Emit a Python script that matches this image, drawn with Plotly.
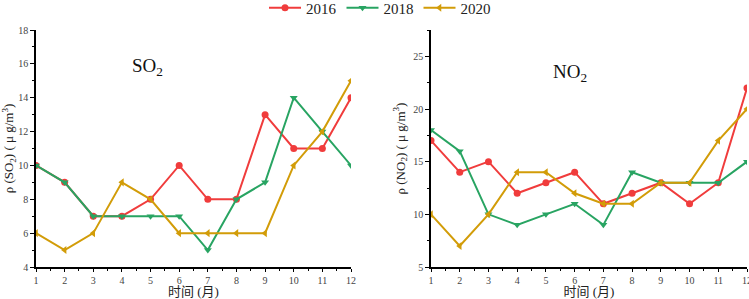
import plotly.graph_objects as go

months = list(range(1, 13))
series_names = ["2016", "2018", "2020"]
so2_2016 = [10, 9, 7, 7, 8, 10, 8, 8, 13, 11, 11, 14]
so2_2018 = [10, 9, 7, 7, 7, 7, 5, 8, 9, 14, 12, 10]
so2_2020 = [6, 5, 6, 9, 8, 6, 6, 6, 6, 10, 12, 15]
no2_2016 = [17, 14, 15, 12, 13, 14, 11, 12, 13, 11, 13, 22]
no2_2018 = [18, 16, 10, 9, 10, 11, 9, 14, 13, 13, 13, 15]
no2_2020 = [10, 7, 10, 14, 14, 12, 11, 11, 13, 13, 17, 20]

colors = ["#F03C3C", "#28A462", "#D29C08"]
symbols = ["circle", "triangle-down", "triangle-left"]

SERIF = "Liberation Serif, DejaVu Serif, Noto Sans CJK SC, serif"

fig = go.Figure()
for i, (name, vals) in enumerate(zip(series_names, [so2_2016, so2_2018, so2_2020])):
    fig.add_trace(go.Scatter(x=months, y=vals, name=name, mode="lines+markers",
                             line=dict(color=colors[i], width=2),
                             marker=dict(symbol=symbols[i], size=7, color=colors[i]),
                             xaxis="x", yaxis="y", legendgroup=name))
for i, (name, vals) in enumerate(zip(series_names, [no2_2016, no2_2018, no2_2020])):
    fig.add_trace(go.Scatter(x=months, y=vals, name=name, mode="lines+markers",
                             line=dict(color=colors[i], width=2),
                             marker=dict(symbol=symbols[i], size=7, color=colors[i]),
                             xaxis="x2", yaxis="y2", legendgroup=name, showlegend=False))

W, H = 749, 299
ML, MR, MT, MB = 36, 2, 30, 32
PW = W - ML - MR
tickfont = dict(family=SERIF, size=10, color="#444")
titlefont = dict(family=SERIF, size=13, color="#222")

def xaxis_cfg(domain, anchor):
    return dict(domain=domain, anchor=anchor, range=[1, 12], tickvals=months,
                showgrid=False, zeroline=False, showline=True, linecolor="black",
                linewidth=1.5, ticks="outside", ticklen=3, tickcolor="black",
                minor=dict(ticks="outside", ticklen=2, dtick=0.5, tick0=1, tickcolor="black"),
                tickfont=tickfont, ticklabeloverflow="allow",
                title=dict(text="时间 (月)", font=dict(family=SERIF, size=13, color="#222"), standoff=6),
                automargin=False)

def yaxis_cfg(anchor, rng, dtick, mdtick, title):
    return dict(domain=[0, 1], anchor=anchor, range=rng, dtick=dtick, tick0=0,
                showgrid=False, zeroline=False, showline=True, linecolor="black",
                linewidth=1.5, ticks="outside", ticklen=4, tickcolor="black",
                minor=dict(ticks="outside", ticklen=2, dtick=mdtick, tick0=0, tickcolor="black"),
                tickfont=tickfont, title=dict(text=title, font=titlefont, standoff=5),
                automargin=False)

fig.update_layout(
    width=W, height=H,
    margin=dict(l=ML, r=MR, t=MT, b=MB, autoexpand=False),
    plot_bgcolor="white", paper_bgcolor="white",
    xaxis=xaxis_cfg([0, (351 - ML) / PW], "y"),
    yaxis=yaxis_cfg("x", [4, 18], 2, 1, "ρ (SO<sub>2</sub>) ( μ g/m<sup>3</sup>)"),
    xaxis2=xaxis_cfg([(431 - ML) / PW, 1], "y2"),
    yaxis2=yaxis_cfg("x2", [5, 27.5], 5, 2.5, "ρ (NO<sub>2</sub>) ( μ g/m<sup>3</sup>)"),
    legend=dict(orientation="h", x=(380 - ML) / PW, xanchor="center", y=1 + 22 / 237, yanchor="middle",
                font=dict(family=SERIF, size=15, color="#222"), itemwidth=32,
                tracegroupgap=0, bgcolor="rgba(0,0,0,0)"),
    annotations=[
        dict(text="SO<sub>2</sub>", x=4.9, y=15.8, xref="x", yref="y", showarrow=False,
             font=dict(family=SERIF, size=19, color="#111")),
        dict(text="NO<sub>2</sub>", x=5.85, y=23.4, xref="x2", yref="y2", showarrow=False,
             font=dict(family=SERIF, size=19, color="#111")),
    ],
)

fig.write_html("out.html", config={"displayModeBar": False},
               post_script="document.body.style.margin='0';document.body.style.padding='0';")
